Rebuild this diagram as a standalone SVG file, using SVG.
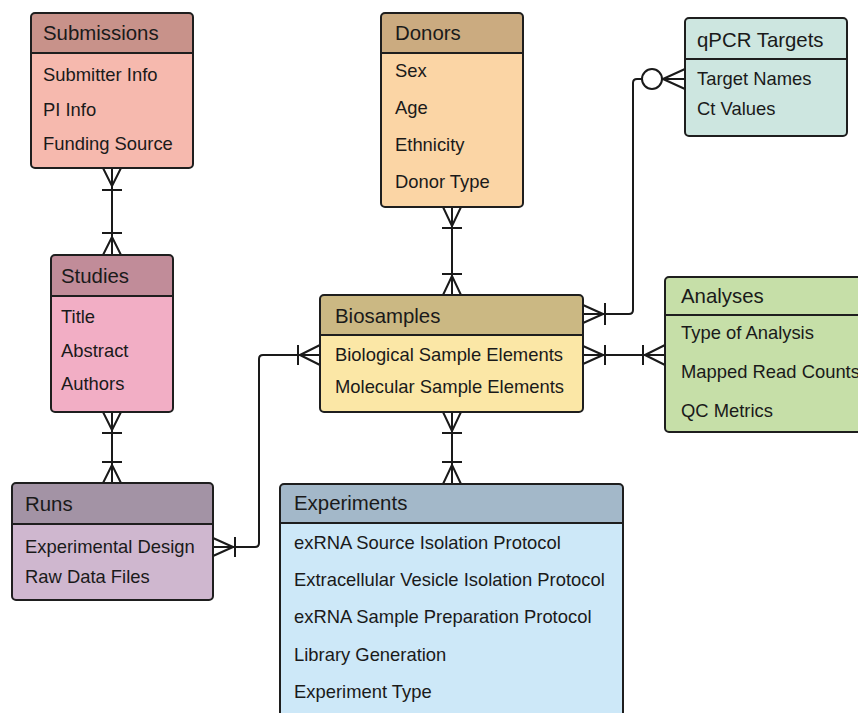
<svg xmlns="http://www.w3.org/2000/svg" width="858" height="713" viewBox="0 0 858 713">
<style>
.sep{stroke:#1e1e1e;stroke-width:2}
.h{font-family:"Liberation Sans",Arial,sans-serif;font-size:20.4px;fill:#1a1a1a}
.t{font-family:"Liberation Sans",Arial,sans-serif;font-size:18.4px;fill:#1a1a1a}
.c{fill:none;stroke:#1a1a1a;stroke-width:2;stroke-linejoin:round}
.o{fill:none;stroke:#1e1e1e;stroke-width:2}
</style>
<rect width="858" height="713" fill="#ffffff"/>
<g id="connectors">
<path class="c" d="M112,168 V255 M103,168 L112,186 L121,168 M102,190 H122 M103,255 L112,237 L121,255 M102,233 H122"/>
<path class="c" d="M112,412 V483 M103,412 L112,430 L121,412 M102,433 H122 M103,483 L112,465 L121,483 M102,462 H122"/>
<path class="c" d="M213,547 H255 Q259,547 259,543 V359 Q259,355 263,355 H320 M213,538 L233,547 L213,556 M235,537 V557 M320,345 L300,355 L320,365 M298,345 V365"/>
<path class="c" d="M452,207 V295 M443,207 L452,226 L461,207 M442,228 H462 M443,295 L452,276 L461,295 M442,274 H462"/>
<path class="c" d="M452,412 V484 M443,412 L452,431 L461,412 M442,433 H462 M443,484 L452,465 L461,484 M442,462 H462"/>
<path class="c" d="M583,314 H629 Q633,314 633,310 V83 Q633,79 637,79 H642 M583,305 L603,314 L583,323 M605,303 V325 M662,79 H685 M685,69 L663,79 L685,89"/>
<circle class="c" cx="652" cy="79" r="10" fill="#ffffff"/>
<path class="c" d="M583,355 H665 M583,346 L603,355 L583,364 M605,345 V365 M665,345 L645,355 L665,365 M643,345 V365"/>
</g>
<g id="submissions">
<rect x="31" y="13" width="162" height="155" rx="4" fill="#F6B9AE"/>
<path d="M32,14 H192 V53 H32 Z" fill="#C8928A"/>
<line class="sep" x1="31" y1="53" x2="193" y2="53"/>
<rect class="o" x="31" y="13" width="162" height="155" rx="4"/>
<text class="h" x="43" y="40">Submissions</text>
<text class="t" x="43" y="81">Submitter Info</text>
<text class="t" x="43" y="116">PI Info</text>
<text class="t" x="43" y="150">Funding Source</text>
</g>
<g id="studies">
<rect x="51" y="255" width="122" height="157" rx="4" fill="#F2AEC5"/>
<path d="M52,256 H172 V296 H52 Z" fill="#C18C99"/>
<line class="sep" x1="51" y1="296" x2="173" y2="296"/>
<rect class="o" x="51" y="255" width="122" height="157" rx="4"/>
<text class="h" x="61" y="283">Studies</text>
<text class="t" x="61" y="323">Title</text>
<text class="t" x="61" y="357">Abstract</text>
<text class="t" x="61" y="390">Authors</text>
</g>
<g id="runs">
<rect x="12" y="483" width="201" height="117" rx="4" fill="#CFB7CF"/>
<path d="M13,484 H212 V524 H13 Z" fill="#A393A5"/>
<line class="sep" x1="12" y1="524" x2="213" y2="524"/>
<rect class="o" x="12" y="483" width="201" height="117" rx="4"/>
<text class="h" x="25" y="511">Runs</text>
<text class="t" x="25" y="553">Experimental Design</text>
<text class="t" x="25" y="583">Raw Data Files</text>
</g>
<g id="donors">
<rect x="381" y="13" width="142" height="194" rx="4" fill="#FBD5A5"/>
<path d="M382,14 H522 V53 H382 Z" fill="#CBAB80"/>
<line class="sep" x1="381" y1="53" x2="523" y2="53"/>
<rect class="o" x="381" y="13" width="142" height="194" rx="4"/>
<text class="h" x="395" y="40">Donors</text>
<text class="t" x="395" y="77">Sex</text>
<text class="t" x="395" y="114">Age</text>
<text class="t" x="395" y="151">Ethnicity</text>
<text class="t" x="395" y="188">Donor Type</text>
</g>
<g id="biosamples">
<rect x="320" y="295" width="263" height="117" rx="4" fill="#FBE7A6"/>
<path d="M321,296 H582 V335 H321 Z" fill="#CBB883"/>
<line class="sep" x1="320" y1="335" x2="583" y2="335"/>
<rect class="o" x="320" y="295" width="263" height="117" rx="4"/>
<text class="h" x="335" y="323">Biosamples</text>
<text class="t" x="335" y="361">Biological Sample Elements</text>
<text class="t" x="335" y="393">Molecular Sample Elements</text>
</g>
<g id="experiments">
<rect x="280" y="484" width="343" height="260" rx="4" fill="#CDE8F8"/>
<path d="M281,485 H622 V523 H281 Z" fill="#A3B8C9"/>
<line class="sep" x1="280" y1="523" x2="623" y2="523"/>
<rect class="o" x="280" y="484" width="343" height="260" rx="4"/>
<text class="h" x="294" y="510">Experiments</text>
<text class="t" x="294" y="549">exRNA Source Isolation Protocol</text>
<text class="t" x="294" y="586">Extracellular Vesicle Isolation Protocol</text>
<text class="t" x="294" y="623">exRNA Sample Preparation Protocol</text>
<text class="t" x="294" y="661">Library Generation</text>
<text class="t" x="294" y="698">Experiment Type</text>
</g>
<g id="qpcr-targets">
<rect x="685" y="18" width="162" height="118" rx="4" fill="#CDE6E0"/>
<line class="sep" x1="685" y1="59" x2="847" y2="59"/>
<rect class="o" x="685" y="18" width="162" height="118" rx="4"/>
<text class="h" x="697" y="47">qPCR Targets</text>
<text class="t" x="697" y="85">Target Names</text>
<text class="t" x="697" y="115">Ct Values</text>
</g>
<g id="analyses">
<rect x="665" y="277" width="210" height="155" rx="4" fill="#C6DFA8"/>
<line class="sep" x1="665" y1="315" x2="875" y2="315"/>
<rect class="o" x="665" y="277" width="210" height="155" rx="4"/>
<text class="h" x="681" y="303">Analyses</text>
<text class="t" x="681" y="339">Type of Analysis</text>
<text class="t" x="681" y="378">Mapped Read Counts</text>
<text class="t" x="681" y="417">QC Metrics</text>
</g>
</svg>
